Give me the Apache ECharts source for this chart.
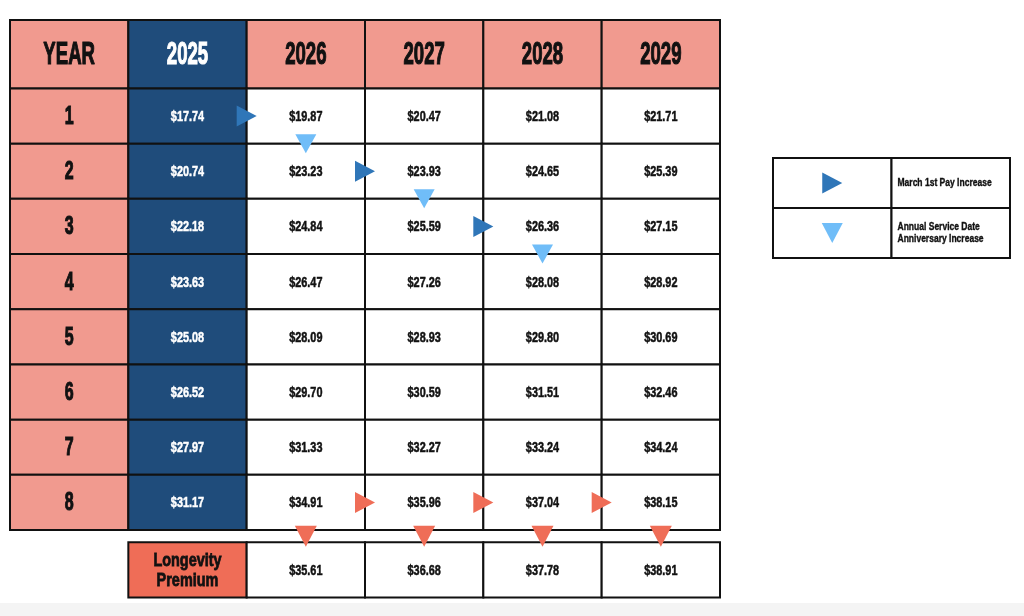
<!DOCTYPE html>
<html><head><meta charset="utf-8">
<script src="https://cdn.jsdelivr.net/npm/echarts@6/dist/echarts.min.js"></script>
<style>html,body{margin:0;padding:0;background:#fff;}#c{width:1024px;height:616px;}</style>
</head><body><div id="c"></div>
<script>
// ---- data ----
const headerLabels = ['YEAR', '2025', '2026', '2027', '2028', '2029'];
const stepLabels = ['1', '2', '3', '4', '5', '6', '7', '8'];
const wage2025 = [17.74, 20.74, 22.18, 23.63, 25.08, 26.52, 27.97, 31.17];
const wage2026 = [19.87, 23.23, 24.84, 26.47, 28.09, 29.70, 31.33, 34.91];
const wage2027 = [20.47, 23.93, 25.59, 27.26, 28.93, 30.59, 32.27, 35.96];
const wage2028 = [21.08, 24.65, 26.36, 28.08, 29.80, 31.51, 33.24, 37.04];
const wage2029 = [21.71, 25.39, 27.15, 28.92, 30.69, 32.46, 34.24, 38.15];
const longevityLabel = 'Longevity\nPremium';
const longevity = [35.61, 36.68, 37.78, 38.91];
// March 1st increases: [boundary column index, step row]
const marchArrows = [[2, 1], [3, 2], [4, 3]];
// anniversary increases: [column index, row above]
const anniversaryArrows = [[2, 1], [3, 2], [4, 3]];
// top-step march increases (row 8)
const topMarchArrows = [[3, 8], [4, 8], [5, 8]];
// longevity increases: column indices
const longevityArrows = [2, 3, 4, 5];
const legendLabels = ['March 1st Pay Increase', 'Annual Service Date\nAnniversary Increase'];

// ---- styles ----
const FONT = '"Liberation Sans",Arial,sans-serif';
const SALMON = '#F19A8F', NAVY = '#1F4C7B', CORAL = '#EF6D57';
const BLUE = '#2F76B8', LIGHTBLUE = '#70BDF8', ORANGE = '#EF6D57';
const HEAD = 1.24, GAP = 0.22;

const wageCols = [wage2025, wage2026, wage2027, wage2028, wage2029];
const fmt = v => '$' + v.toFixed(2);

const cells = [];
headerLabels.forEach((t, c) => {
  cells.push({ value: [c, 0, HEAD], fill: c === 1 ? NAVY : SALMON, text: t, color: c === 1 ? '#fff' : '#111', size: 31, sx: 0.6, sw: 1.2 });
});
stepLabels.forEach((s, r) => {
  const y0 = HEAD + r, y1 = HEAD + r + 1;
  cells.push({ value: [0, y0, y1], fill: SALMON, text: s, color: '#111', size: 25, sx: 0.64, sw: 1.1 });
  wageCols.forEach((col, k) => {
    cells.push({ value: [k + 1, y0, y1], fill: k === 0 ? NAVY : '#fff', text: fmt(col[r]), color: k === 0 ? '#fff' : '#111', size: 14.5, sx: 0.75, sw: 0.5 });
  });
});
const ly0 = HEAD + 8 + GAP, ly1 = ly0 + 1;
cells.push({ value: [1, ly0, ly1], fill: CORAL, text: longevityLabel, color: '#111', size: 19, lh: 20, sx: 0.76, sw: 0.8 });
longevity.forEach((v, k) => {
  cells.push({ value: [k + 2, ly0, ly1], fill: '#fff', text: fmt(v), color: '#111', size: 14.5, sx: 0.75, sw: 0.5 });
});

function renderCell(params, api) {
  const d = cells[params.dataIndex];
  const c = api.value(0), y0 = api.value(1), y1 = api.value(2);
  const p0 = api.coord([c, y0]), p1 = api.coord([c + 1, y1]);
  return {
    type: 'group',
    children: [
      { type: 'rect', shape: { x: p0[0], y: p0[1], width: p1[0] - p0[0], height: p1[1] - p0[1] },
        style: { fill: d.fill, stroke: '#111', lineWidth: 2 } },
      { type: 'text', x: (p0[0] + p1[0]) / 2, y: (p0[1] + p1[1]) / 2 + 1, scaleX: d.sx,
        style: { text: d.text, fill: d.color, stroke: d.color, lineWidth: d.sw, font: 'bold ' + d.size + 'px ' + FONT, align: 'center', verticalAlign: 'middle', lineHeight: d.lh || d.size } }
    ]
  };
}

const legendCells = [
  { value: [0, 0, 1], text: '' }, { value: [1, 0, 1], text: legendLabels[0] },
  { value: [0, 1, 2], text: '' }, { value: [1, 1, 2], text: legendLabels[1] }
];
function renderLegendCell(params, api) {
  const d = legendCells[params.dataIndex];
  const c = api.value(0), y0 = api.value(1), y1 = api.value(2);
  const p0 = api.coord([c, y0]), p1 = api.coord([c + 1, y1]);
  return {
    type: 'group',
    children: [
      { type: 'rect', shape: { x: p0[0], y: p0[1], width: p1[0] - p0[0], height: p1[1] - p0[1] },
        style: { fill: '#fff', stroke: '#111', lineWidth: 2 } },
      { type: 'text', x: p0[0] + 6, y: (p0[1] + p1[1]) / 2, scaleX: 0.74,
        style: { text: d.text, fill: '#111', stroke: '#111', lineWidth: 0.4, font: 'bold 11.5px ' + FONT, align: 'left', verticalAlign: 'middle', lineHeight: 12 } }
    ]
  };
}

const chart = echarts.init(document.getElementById('c'));
chart.setOption({
  animation: false,
  backgroundColor: '#fff',
  graphic: [{ type: 'rect', left: 0, top: 603, shape: { width: 1024, height: 13 }, style: { fill: '#f4f4f4' }, z: -10 }],
  grid: [
    { left: 10, top: 20, width: 710, height: 577.4 },
    { left: 773, top: 158, width: 237, height: 100 }
  ],
  xAxis: [
    { type: 'value', min: 0, max: 6, show: false, gridIndex: 0 },
    { type: 'value', min: 0, max: 2, show: false, gridIndex: 1 }
  ],
  yAxis: [
    { type: 'value', min: 0, max: HEAD + 9 + GAP, inverse: true, show: false, gridIndex: 0 },
    { type: 'value', min: 0, max: 2, inverse: true, show: false, gridIndex: 1 }
  ],
  series: [
    { type: 'custom', xAxisIndex: 0, yAxisIndex: 0, renderItem: renderCell, data: cells.map(d => d.value), z: 1, clip: false, silent: true },
    { type: 'scatter', xAxisIndex: 0, yAxisIndex: 0, symbol: 'triangle', symbolRotate: -90, symbolSize: [21, 20],
      itemStyle: { color: BLUE, opacity: 1 }, z: 5, clip: false, silent: true,
      data: marchArrows.map(a => [a[0], HEAD + a[1] - 0.5]) },
    { type: 'scatter', xAxisIndex: 0, yAxisIndex: 0, symbol: 'triangle', symbolRotate: 180, symbolSize: [21, 19],
      itemStyle: { color: LIGHTBLUE, opacity: 1 }, z: 5, clip: false, silent: true,
      data: anniversaryArrows.map(a => [a[0] + 0.5, HEAD + a[1]]) },
    { type: 'scatter', xAxisIndex: 0, yAxisIndex: 0, symbol: 'triangle', symbolRotate: -90, symbolSize: [21, 20],
      itemStyle: { color: ORANGE, opacity: 1 }, z: 5, clip: false, silent: true,
      data: topMarchArrows.map(a => [a[0], HEAD + a[1] - 0.5]) },
    { type: 'scatter', xAxisIndex: 0, yAxisIndex: 0, symbol: 'triangle', symbolRotate: 180, symbolSize: [22, 21],
      itemStyle: { color: ORANGE, opacity: 1 }, z: 5, clip: false, silent: true,
      data: longevityArrows.map(c => [c + 0.5, HEAD + 8 + GAP / 2]) },
    { type: 'custom', xAxisIndex: 1, yAxisIndex: 1, renderItem: renderLegendCell, data: legendCells.map(d => d.value), z: 1, clip: false, silent: true },
    { type: 'scatter', xAxisIndex: 1, yAxisIndex: 1, symbol: 'triangle', symbolSize: [21, 20], z: 5, clip: false, silent: true,
      data: [
        { value: [0.5, 0.5], symbolRotate: -90, itemStyle: { color: BLUE, opacity: 1 } },
        { value: [0.5, 1.5], symbolRotate: 180, itemStyle: { color: LIGHTBLUE, opacity: 1 } }
      ] }
  ]
});
</script></body></html>
